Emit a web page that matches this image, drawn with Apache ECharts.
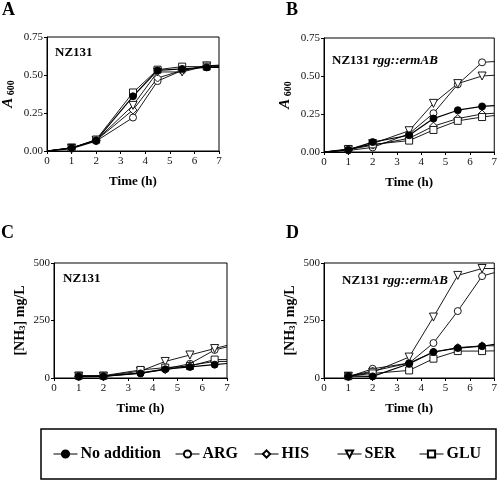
<!DOCTYPE html>
<html><head><meta charset="utf-8">
<script src="https://cdn.jsdelivr.net/npm/echarts@6/dist/echarts.min.js"></script>
<style>html,body{margin:0;padding:0;background:#fff}#c{width:500px;height:482px}</style>
</head><body><div id="c"></div>
<script>
// ---- data ----
var seriesNames = ['No addition', 'ARG', 'HIS', 'SER', 'GLU'];
var timesAB = [0, 1, 2, 3.5, 4.5, 5.5, 6.5, 7];
var timesCD = [1, 2, 3.5, 4.5, 5.5, 6.5, 7];
var xTicks = [0, 1, 2, 3, 4, 5, 6, 7];

var A_none = [0, 0.02, 0.07, 0.36, 0.53, 0.54, 0.55, 0.55];
var A_arg  = [0, 0.015, 0.065, 0.22, 0.46, 0.53, 0.56, 0.565];
var A_his  = [0, 0.02, 0.07, 0.27, 0.48, 0.53, 0.56, 0.56];
var A_ser  = [0, 0.02, 0.07, 0.30, 0.52, 0.52, 0.56, 0.56];
var A_glu  = [0, 0.02, 0.075, 0.385, 0.535, 0.555, 0.555, 0.555];

var B_none = [0, 0.015, 0.065, 0.11, 0.22, 0.275, 0.30, 0.305];
var B_arg  = [0, 0.01, 0.03, 0.12, 0.255, 0.445, 0.59, 0.595];
var B_his  = [0, 0.015, 0.045, 0.09, 0.17, 0.22, 0.25, 0.255];
var B_ser  = [0, 0.015, 0.055, 0.14, 0.32, 0.45, 0.50, 0.505];
var B_glu  = [0, 0.02, 0.05, 0.075, 0.145, 0.205, 0.23, 0.24];

var C_none = [8, 8, 20, 38, 48, 58, 63];
var C_arg  = [5, 6, 22, 40, 62, 122, 135];
var C_his  = [8, 8, 22, 36, 55, 72, 72];
var C_ser  = [8, 8, 30, 72, 100, 128, 142];
var C_glu  = [10, 10, 35, 45, 52, 80, 80];

var D_none = [8, 7, 62, 113, 130, 138, 146];
var D_arg  = [5, 40, 65, 152, 291, 443, 458];
var D_his  = [8, 30, 65, 113, 132, 140, 140];
var D_ser  = [8, 25, 91, 265, 446, 476, 476];
var D_glu  = [8, 20, 33, 84, 117, 117, 118];

var yTicksAB = [0, 0.25, 0.5, 0.75];
var yTicksCD = [0, 250, 500];

// ---- styling ----
var SERIF = '"Liberation Serif","DejaVu Serif",serif';
var triDown = 'path://M0,0 L10,0 L5,9 Z';
var symbols = ['circle', 'circle', 'diamond', triDown, 'rect'];
var fills = ['#000', '#fff', '#fff', '#fff', '#fff'];
var sizes = [7, 7, 8, 8, 7];

var grids = [
  {left: 47, top: 37, width: 172, height: 114},
  {left: 324, top: 38, width: 173, height: 114},
  {left: 54, top: 263, width: 173, height: 115},
  {left: 324, top: 263, width: 173, height: 115}
];
grids.forEach(function (g) { g.show = true; g.borderColor = '#000'; g.borderWidth = 1; g.backgroundColor = 'transparent'; });

var axisLine = {show: true, lineStyle: {color: '#000', width: 1}};
var axisTick = {show: true, inside: false, length: 3, lineStyle: {color: '#000'}};
var labelStyle = {color: '#111', fontFamily: SERIF, fontSize: 11};

var xAxes = [], yAxes = [];
for (var i = 0; i < 4; i++) {
  xAxes.push({
    type: 'value', gridIndex: i, min: 0, max: 7, interval: 1,
    axisLine: axisLine, axisTick: axisTick, splitLine: {show: false},
    axisLabel: Object.assign({margin: 5}, labelStyle),
    name: 'Time (h)', nameLocation: 'middle', nameGap: 24,
    nameTextStyle: {fontFamily: SERIF, fontWeight: 'bold', fontSize: 13, color: '#000'}
  });
  var ab = i < 2;
  yAxes.push({
    type: 'value', gridIndex: i, min: 0, max: ab ? 0.75 : 500, interval: ab ? 0.25 : 250,
    axisLine: axisLine, axisTick: axisTick, splitLine: {show: false},
    axisLabel: Object.assign({margin: 4, formatter: ab ? function (v) { return v.toFixed(2); } : function (v) { return String(v); }}, labelStyle),
    name: ab ? '{a|A}{s| 600}' : '{b|[NH}{t|3}{b|] mg/L}',
    nameLocation: 'middle', nameRotate: 90, nameGap: ab ? 31 : 27,
    nameTextStyle: {
      color: '#000', fontFamily: SERIF, fontWeight: 'bold',
      rich: {
        a: {fontFamily: SERIF, fontWeight: 'bold', fontStyle: 'italic', fontSize: 15, color: '#000', verticalAlign: 'bottom', lineHeight: 18},
        s: {fontFamily: SERIF, fontWeight: 'bold', fontSize: 10, color: '#000', verticalAlign: 'bottom', lineHeight: 12},
        b: {fontFamily: SERIF, fontWeight: 'bold', fontSize: 14, color: '#000', verticalAlign: 'bottom', lineHeight: 18},
        t: {fontFamily: SERIF, fontWeight: 'bold', fontSize: 9, color: '#000', verticalAlign: 'bottom', lineHeight: 12}
      }
    }
  });
}

function mk(times, vals, hasStart) {
  return times.map(function (t, k) {
    var edge = (k === times.length - 1) || (hasStart && k === 0);
    return edge ? {value: [t, vals[k]], symbol: 'none'} : [t, vals[k]];
  });
}

var panels = [
  {times: timesAB, start: true, data: [A_none, A_arg, A_his, A_ser, A_glu]},
  {times: timesAB, start: true, data: [B_none, B_arg, B_his, B_ser, B_glu]},
  {times: timesCD, start: false, data: [C_none, C_arg, C_his, C_ser, C_glu]},
  {times: timesCD, start: false, data: [D_none, D_arg, D_his, D_ser, D_glu]}
];

var series = [];
panels.forEach(function (p, pi) {
  [1, 2, 3, 4, 0].forEach(function (si) {
    series.push({
      name: seriesNames[si], type: 'line', xAxisIndex: pi, yAxisIndex: pi,
      data: mk(p.times, p.data[si], p.start),
      symbol: symbols[si], symbolSize: sizes[si], showAllSymbol: true,
      lineStyle: {color: '#000', width: si === 0 ? 1.2 : 0.9},
      itemStyle: {color: fills[si], borderColor: '#000', borderWidth: 0.9},
      animation: false, silent: true
    });
  });
});

var legendLefts = [53, 175, 254, 337, 419];
var legends = seriesNames.map(function (n, k) {
  return {
    data: [n], left: legendLefts[k], top: 446, orient: 'horizontal', padding: 0,
    itemWidth: 24, itemHeight: 9, itemGap: 4, selectedMode: false,
    lineStyle: {width: 1},
    textStyle: {fontFamily: SERIF, fontWeight: 'bold', fontSize: 16, color: '#000', padding: [0, 0, 0, -2]}
  };
});

var titleText = {fontFamily: SERIF, fontWeight: 'bold', color: '#000'};
var titles = [
  {text: 'A', left: 2, top: 1, padding: 0, textStyle: Object.assign({fontSize: 18}, titleText)},
  {text: 'B', left: 286, top: 1, padding: 0, textStyle: Object.assign({fontSize: 18}, titleText)},
  {text: 'C', left: 1, top: 224, padding: 0, textStyle: Object.assign({fontSize: 18}, titleText)},
  {text: 'D', left: 286, top: 224, padding: 0, textStyle: Object.assign({fontSize: 18}, titleText)},
  {text: 'NZ131', left: 55, top: 46, padding: 0, textStyle: Object.assign({fontSize: 13}, titleText)},
  {text: 'NZ131 {i|rgg::ermAB}', left: 332, top: 54, padding: 0, textStyle: Object.assign({fontSize: 13, rich: {i: Object.assign({fontSize: 13, fontStyle: 'italic'}, titleText)}}, titleText)},
  {text: 'NZ131', left: 63, top: 272, padding: 0, textStyle: Object.assign({fontSize: 13}, titleText)},
  {text: 'NZ131 {i|rgg::ermAB}', left: 342, top: 274, padding: 0, textStyle: Object.assign({fontSize: 13, rich: {i: Object.assign({fontSize: 13, fontStyle: 'italic'}, titleText)}}, titleText)}
];

var chart = echarts.init(document.getElementById('c'), null, {renderer: 'canvas'});
chart.setOption({
  backgroundColor: '#fff',
  animation: false,
  title: titles,
  grid: grids,
  xAxis: xAxes,
  yAxis: yAxes,
  legend: legends,
  series: series,
  graphic: [{
    type: 'rect', shape: {x: 41, y: 429, width: 455, height: 50},
    style: {fill: 'none', stroke: '#000', lineWidth: 1.5}, z: 0, silent: true
  }]
});
</script></body></html>
